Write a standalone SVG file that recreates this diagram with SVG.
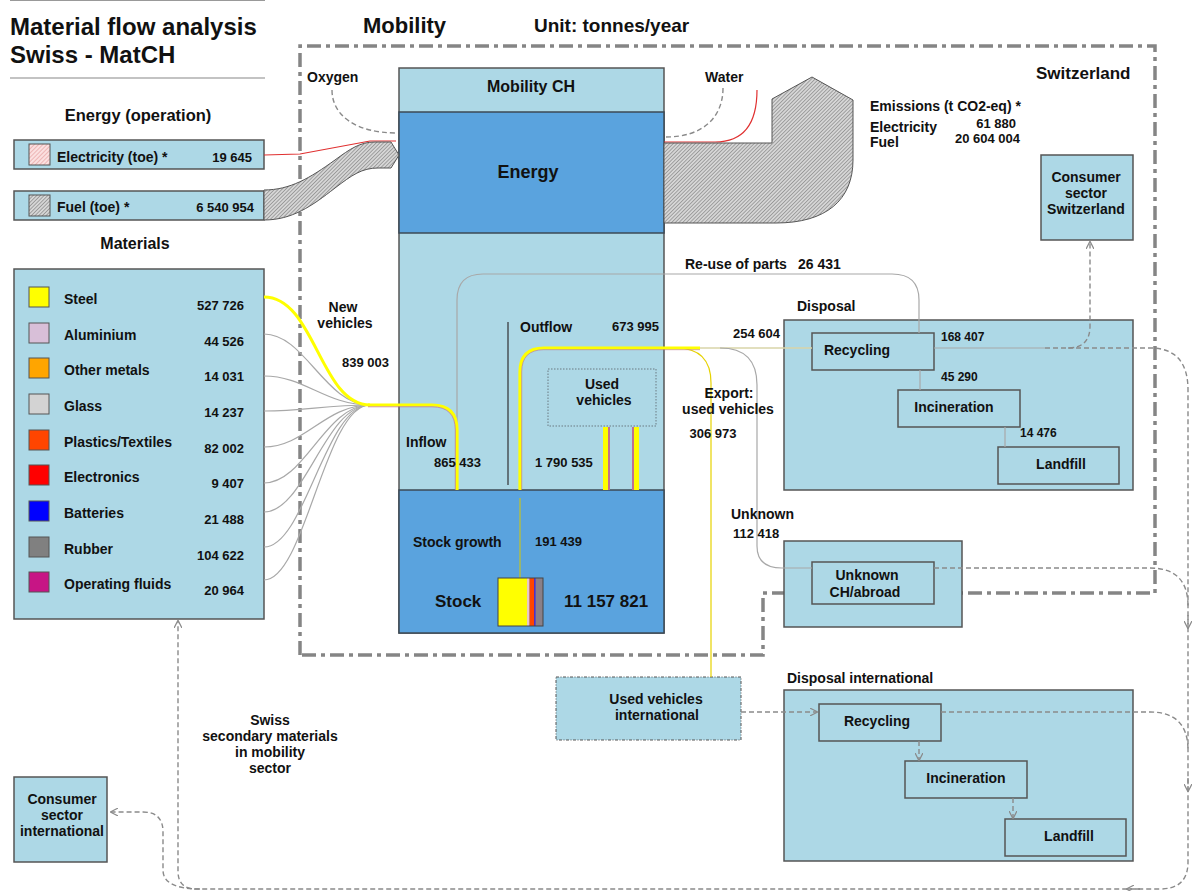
<svg xmlns="http://www.w3.org/2000/svg" width="1192" height="891" viewBox="0 0 1192 891">
<style>
text{font-family:"Liberation Sans",Arial,sans-serif;font-weight:bold;fill:#111}
.t14{font-size:14px}.t13{font-size:13px}.t12{font-size:12px}.t16{font-size:16px}.t17{font-size:17px}
.mid{text-anchor:middle}.end{text-anchor:end}
.box{fill:#ADD8E6;stroke:#555;stroke-width:1.5}
.dark{fill:#5AA3DE;stroke:#3d4a55;stroke-width:1.5}
.grey{fill:none;stroke:#a8a8a8;stroke-width:1.2}
.dash{fill:none;stroke:#8a8a8a;stroke-width:1.4;stroke-dasharray:5 3}
.bound{fill:none;stroke:#858585;stroke-width:3.5;stroke-dasharray:14 5 4 5}
</style>
<defs>
<pattern id="hg" patternUnits="userSpaceOnUse" width="2.6" height="2.6" patternTransform="rotate(45)"><rect width="2.6" height="2.6" fill="#d6d6d6"/><line x1="0" y1="0" x2="0" y2="2.6" stroke="#6a6a6a" stroke-width="1"/></pattern>
<pattern id="hp" patternUnits="userSpaceOnUse" width="3" height="3" patternTransform="rotate(45)"><rect width="3" height="3" fill="#fbe0e0"/><line x1="0" y1="0" x2="0" y2="3" stroke="#e08a8a" stroke-width="1"/></pattern>
<marker id="arr" viewBox="0 0 10 10" refX="9" refY="5" markerWidth="8" markerHeight="8" markerUnits="userSpaceOnUse" orient="auto"><path d="M0,0 L10,5 L0,10" fill="none" stroke="#8a8a8a" stroke-width="1.5"/></marker>
</defs>

<g id="title">
<line x1="10" y1="0.5" x2="265" y2="0.5" stroke="#999" stroke-width="1"/>
<text x="10" y="35" style="font-size:24px">Material flow analysis</text>
<text x="10" y="63" style="font-size:24px">Swiss - MatCH</text>
<line x1="10" y1="78" x2="265" y2="78" stroke="#888" stroke-width="1.2"/>
<text x="363" y="33" style="font-size:22px">Mobility</text>
<text x="534" y="32" style="font-size:19px">Unit: tonnes/year</text>
</g>

<g id="switzerland-boundary">
<path class="bound" d="M300,655 L300,46 L1155,46 L1155,593 L763,593 L763,655 Z"/>
<text x="1036" y="79" class="t17">Switzerland</text>
</g>

<g id="energy-operation">
<text x="138" y="121" class="mid" style="font-size:16.5px">Energy (operation)</text>
<rect class="box" x="14" y="140" width="250" height="29"/>
<rect x="29" y="144" width="21" height="21" fill="url(#hp)" stroke="#555"/>
<text x="57" y="162" class="t14">Electricity (toe) *</text>
<text x="252" y="162" class="t13 end">19 645</text>
<rect class="box" x="14" y="191" width="250" height="29"/>
<rect x="29" y="195" width="21" height="21" fill="url(#hg)" stroke="#555"/>
<text x="57" y="212" class="t14">Fuel (toe) *</text>
<text x="254" y="212" class="t13 end">6 540 954</text>
</g>

<g id="materials">
<text x="135" y="249" class="t16 mid">Materials</text>
<rect class="box" x="14" y="269" width="250" height="350"/>
<rect x="29" y="287" width="20" height="20" fill="#FFFF00" stroke="#555"/>
<text x="64" y="304" class="t14">Steel</text><text x="244" y="310" class="t13 end">527 726</text>
<rect x="29" y="323" width="20" height="20" fill="#D8BFD8" stroke="#555"/>
<text x="64" y="340" class="t14">Aluminium</text><text x="244" y="346" class="t13 end">44 526</text>
<rect x="29" y="358" width="20" height="20" fill="#FFA500" stroke="#555"/>
<text x="64" y="375" class="t14">Other metals</text><text x="244" y="381" class="t13 end">14 031</text>
<rect x="29" y="394" width="20" height="20" fill="#D3D3D3" stroke="#555"/>
<text x="64" y="411" class="t14">Glass</text><text x="244" y="417" class="t13 end">14 237</text>
<rect x="29" y="430" width="20" height="20" fill="#FF4500" stroke="#555"/>
<text x="64" y="447" class="t14">Plastics/Textiles</text><text x="244" y="453" class="t13 end">82 002</text>
<rect x="29" y="465" width="20" height="20" fill="#FF0000" stroke="#555"/>
<text x="64" y="482" class="t14">Electronics</text><text x="244" y="488" class="t13 end">9 407</text>
<rect x="29" y="501" width="20" height="20" fill="#0000FF" stroke="#555"/>
<text x="64" y="518" class="t14">Batteries</text><text x="244" y="524" class="t13 end">21 488</text>
<rect x="29" y="537" width="20" height="20" fill="#808080" stroke="#555"/>
<text x="64" y="554" class="t14">Rubber</text><text x="244" y="560" class="t13 end">104 622</text>
<rect x="29" y="572" width="20" height="20" fill="#C71585" stroke="#555"/>
<text x="64" y="589" class="t14">Operating fluids</text><text x="244" y="595" class="t13 end">20 964</text>
</g>

<g id="mobility-ch">
<rect class="box" x="399" y="68" width="265" height="565"/>
<rect class="dark" x="399" y="112" width="265" height="121"/>
<rect class="dark" x="399" y="490" width="265" height="143"/>
<text x="531" y="92" class="t16 mid">Mobility CH</text>
<text x="528" y="178" class="mid" style="font-size:18px">Energy</text>
<rect x="548" y="369" width="108" height="57" fill="none" stroke="#6a7a82" stroke-width="1" stroke-dasharray="1.5 1.5"/>
<text x="602" y="389" class="t14 mid">Used</text>
<text x="604" y="405" class="t14 mid">vehicles</text>
<line x1="508" y1="322" x2="508" y2="485" stroke="#505a60" stroke-width="1.6"/>
<text x="413" y="547" class="t14">Stock growth</text>
<text x="535" y="546" class="t13">191 439</text>
<text x="435" y="607" class="t17">Stock</text>
<text x="564" y="607" class="t17">11 157 821</text>
<line x1="520" y1="498" x2="520" y2="578" stroke="#d8c800" stroke-width="1"/>
<rect x="498" y="578" width="29" height="48" fill="#FFFF00"/>
<rect x="527" y="578" width="2.5" height="48" fill="#E8C8C8"/>
<rect x="529.5" y="578" width="4.5" height="48" fill="#FF4500"/>
<rect x="534" y="578" width="1.8" height="48" fill="#5030C0"/>
<rect x="535.8" y="578" width="7.2" height="48" fill="#8a8088"/>
<rect x="498" y="578" width="45" height="48" fill="none" stroke="#444" stroke-width="1"/>
<rect x="603" y="427" width="5" height="63" fill="#FFFF00"/>
<rect x="608" y="427" width="2" height="63" fill="#c07090"/>
<rect x="632" y="427" width="2" height="63" fill="#c07090"/>
<rect x="634" y="427" width="5" height="63" fill="#FFFF00"/>
</g>

<g id="consumer-ch">
<rect class="box" x="1041" y="155" width="92" height="85"/>
<text x="1086" y="182" class="t14 mid">Consumer</text>
<text x="1086" y="198" class="t14 mid">sector</text>
<text x="1086" y="214" class="t14 mid">Switzerland</text>
</g>

<g id="disposal">
<text x="797" y="311" class="t14">Disposal</text>
<rect class="box" x="784" y="320" width="349" height="170"/>
<rect class="box" x="812" y="333" width="122" height="37"/>
<text x="857" y="355" class="t14 mid">Recycling</text>
<rect class="box" x="898" y="390" width="122" height="37"/>
<text x="954" y="412" class="t14 mid">Incineration</text>
<rect class="box" x="998" y="447" width="121" height="37"/>
<text x="1061" y="469" class="t14 mid">Landfill</text>
</g>

<g id="unknown">
<rect class="box" x="784" y="541" width="178" height="86"/>
<rect class="box" x="812" y="562" width="122" height="42"/>
<text x="867" y="580" class="t14 mid">Unknown</text>
<text x="865" y="597" class="t14 mid">CH/abroad</text>
</g>

<g id="used-vehicles-international">
<rect x="556" y="677" width="185" height="63" fill="#ADD8E6" stroke="#555" stroke-width="1" stroke-dasharray="3 1.5 1 1.5"/>
<text x="656" y="704" class="t14 mid">Used vehicles</text>
<text x="657" y="720" class="t14 mid">international</text>
</g>

<g id="disposal-international">
<text x="787" y="683" class="t14">Disposal international</text>
<rect class="box" x="784" y="690" width="349" height="171"/>
<rect class="box" x="819" y="704" width="122" height="37"/>
<text x="877" y="726" class="t14 mid">Recycling</text>
<rect class="box" x="905" y="761" width="122" height="37"/>
<text x="966" y="783" class="t14 mid">Incineration</text>
<rect class="box" x="1005" y="819" width="121" height="37"/>
<text x="1069" y="841" class="t14 mid">Landfill</text>
</g>

<g id="consumer-international">
<rect class="box" x="14" y="777" width="93" height="85"/>
<text x="62" y="804" class="t14 mid">Consumer</text>
<text x="62" y="820" class="t14 mid">sector</text>
<text x="62" y="836" class="t14 mid">international</text>
</g>

<g id="connectors">
<path d="M332,90 C332,115 355,133 397,133" class="dash"/>
<path d="M264,155 L300,154 L370,141 L396,141" fill="none" stroke="#e03030" stroke-width="1.2"/>
<path d="M264,190 C290,190 310,178 335,160 C350,149 360,142 375,142 L391,142 L399,155 L391,168 L378,168 C362,168 352,175 335,188 C312,206 292,220 264,220 Z" fill="url(#hg)" stroke="#555" stroke-width="1"/>
<path d="M723,88 C723,118 702,137 666,137" class="dash"/>
<path d="M757,90 C757,125 742,142 715,142 L664,142" fill="none" stroke="#e03030" stroke-width="1.2"/>
<path d="M664,143 L772,143 L772,99 L812,77 L853,100 L853,160 C853,200 826,223 776,223 L664,223 Z" fill="url(#hg)" stroke="#555" stroke-width="1"/>

<path class="grey" d="M264,334 C305,334 325,405 370,405"/>
<path class="grey" d="M264,376 C305,376 325,405 370,405"/>
<path class="grey" d="M264,411 C305,411 325,405 370,405"/>
<path class="grey" d="M264,447 C305,447 325,405 370,405"/>
<path class="grey" d="M264,483 C305,483 325,405 370,405"/>
<path class="grey" d="M264,512 C305,512 325,405 370,405"/>
<path class="grey" d="M264,547 C305,547 325,405 370,405"/>
<path class="grey" d="M264,580 C305,580 325,405 370,405"/>
<path d="M264,297 C315,297 320,405 370,405" fill="none" stroke="#FFFF00" stroke-width="3"/>
<path d="M457,490 L457,300 Q457,274 483,274 L892,274 Q919,274 919,300 L919,333" class="grey"/>
<path d="M368,405 L432,405 Q457,405 457,430 L457,490" fill="none" stroke="#FFFF00" stroke-width="3.2"/>
<path d="M368,406.8 L432,406.8 Q455.3,406.8 455.3,430 L455.3,490" fill="none" stroke="#c07090" stroke-width="0.7"/>
<path d="M690,348 L812,348" fill="none" stroke="#d8d4a8" stroke-width="1.4"/>
<path d="M720,348 Q757,348 757,385 L757,546 Q757,568 782,568 L812,568" class="grey"/>
<path d="M676,348 Q711,348 711,383 L711,677" fill="none" stroke="#e6d200" stroke-width="1.2"/>
<path d="M520,490 L520,372 Q520,348 544,348 L700,348" fill="none" stroke="#FFFF00" stroke-width="3.2"/>
<path d="M521.7,490 L521.7,372 Q521.7,349.7 544,349.7 L700,349.7" fill="none" stroke="#c07090" stroke-width="0.6"/>
<line x1="920" y1="370" x2="920" y2="390" class="grey"/>
<line x1="1005" y1="427" x2="1005" y2="447" class="grey"/>
<line x1="934" y1="348" x2="1045" y2="348" class="grey"/>
<path class="dash" d="M1045,348 L1068,348 Q1090,348 1090,326 L1090,242" marker-end="url(#arr)"/>
<path class="dash" d="M1068,348 L1150,348 Q1188,348 1188,390 L1188,862 Q1188,889 1160,889 L196,889 Q178,889 178,871 L178,621" marker-end="url(#arr)"/>
<path class="dash" d="M934,568 L1150,568 Q1188,568 1188,606"/>
<path class="dash" d="M941,712 L1150,712 Q1188,712 1188,750"/>
<path class="dash" d="M1188,615 L1188,628" marker-end="url(#arr)"/>
<path class="dash" d="M1188,778 L1188,791" marker-end="url(#arr)"/>
<path class="dash" d="M1140,889 L1127,889" marker-end="url(#arr)"/>
<path class="dash" d="M200,889 Q163,889 163,870 L163,832 Q163,812 143,812 L111,812" marker-end="url(#arr)"/>
<path class="dash" d="M741,712 L817,712" marker-end="url(#arr)"/>
<path class="dash" d="M919,741 L919,760" marker-end="url(#arr)"/>
<path class="dash" d="M1013,798 L1013,818" marker-end="url(#arr)"/>
</g>

<g id="flow-labels">
<text x="307" y="82" class="t14">Oxygen</text>
<text x="705" y="82" class="t14">Water</text>
<text x="870" y="111" class="t14">Emissions (t CO2-eq) *</text>
<text x="870" y="132" class="t14">Electricity</text>
<text x="870" y="147" class="t14">Fuel</text>
<text x="1016" y="128" class="t13 end">61 880</text>
<text x="1020" y="143" class="t13 end">20 604 004</text>
<text x="343" y="312" class="t14 mid">New</text>
<text x="345" y="328" class="t14 mid">vehicles</text>
<text x="342" y="367" class="t13">839 003</text>
<text x="406" y="447" class="t14">Inflow</text>
<text x="434" y="467" class="t13">865 433</text>
<text x="520" y="332" class="t14">Outflow</text>
<text x="612" y="331" class="t13">673 995</text>
<text x="535" y="467" class="t13">1 790 535</text>
<text x="685" y="269" class="t14">Re-use of parts</text>
<text x="798" y="269" class="t14">26 431</text>
<text x="733" y="338" class="t13">254 604</text>
<text x="729" y="398" class="t14 mid">Export:</text>
<text x="728" y="414" class="t14 mid">used vehicles</text>
<text x="713" y="438" class="t13 mid">306 973</text>
<text x="731" y="519" class="t14">Unknown</text>
<text x="733" y="538" class="t13">112 418</text>
<text x="941" y="341" class="t12">168 407</text>
<text x="941" y="381" class="t12">45 290</text>
<text x="1020" y="437" class="t12">14 476</text>
<text x="270" y="725" class="t14 mid">Swiss</text>
<text x="270" y="741" class="t14 mid">secondary materials</text>
<text x="270" y="757" class="t14 mid">in mobility</text>
<text x="270" y="773" class="t14 mid">sector</text>
</g>
</svg>
